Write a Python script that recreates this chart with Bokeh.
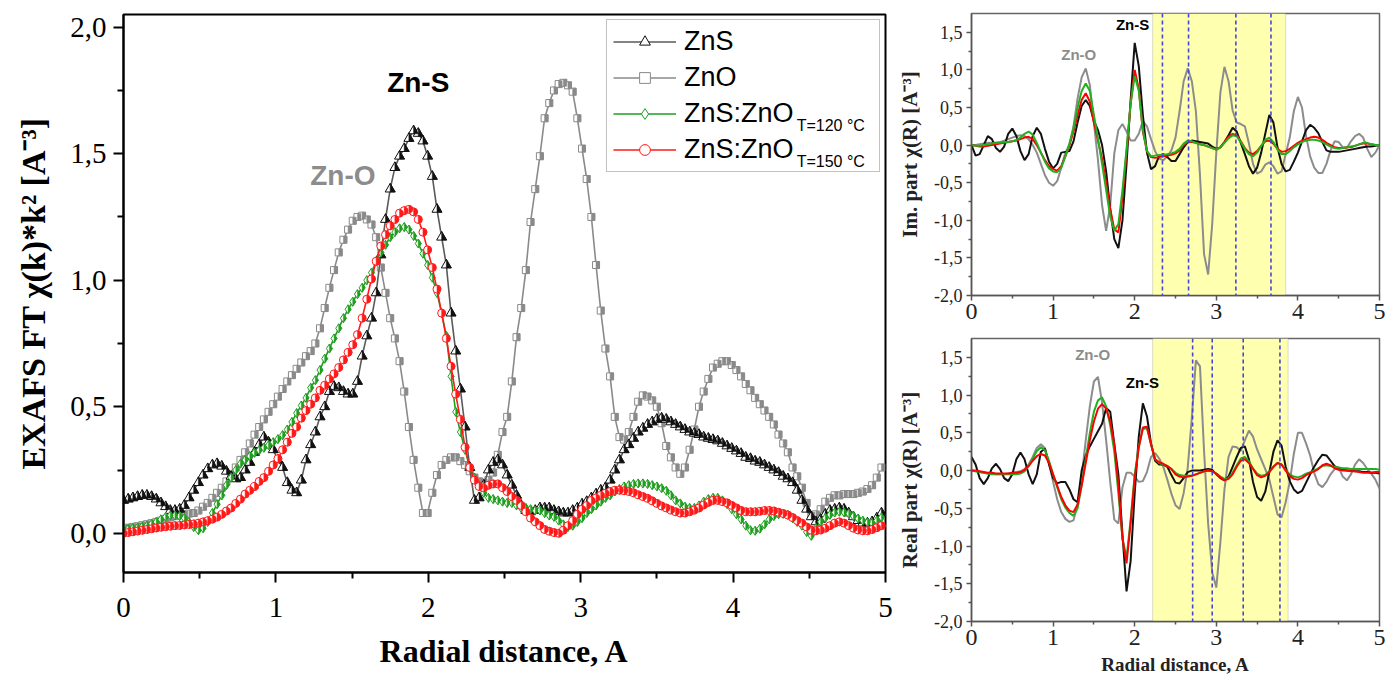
import numpy as np
from bokeh.plotting import figure
from bokeh.layouts import row, column
from bokeh.models import (FixedTicker, CustomJSTickFormatter, Legend, LegendItem,
                          Label, BoxAnnotation, Span)
from bokeh.embed import file_html
from bokeh.resources import INLINE

# ---------------- data: left panel (|FT|, R grid step 0.0307 A) ----------------
R_STEP = 0.0307
r_left = [round(i * R_STEP, 4) for i in range(163)]

zns = [0.13, 0.135, 0.14, 0.145, 0.15, 0.15, 0.145, 0.135, 0.12, 0.105,
       0.09, 0.09, 0.095, 0.11, 0.14, 0.17, 0.20, 0.23, 0.255, 0.27,
       0.275, 0.265, 0.245, 0.225, 0.215, 0.22, 0.25, 0.28, 0.32, 0.35,
       0.38, 0.36, 0.33, 0.29, 0.26, 0.20, 0.17, 0.16, 0.21, 0.29,
       0.35, 0.40, 0.46, 0.50, 0.56, 0.58, 0.575, 0.56, 0.55, 0.55,
       0.60, 0.70, 0.78, 0.85, 0.95, 1.10, 1.24, 1.36, 1.445, 1.49,
       1.52, 1.56, 1.59, 1.58, 1.55, 1.49, 1.41, 1.28, 1.17, 1.06,
       0.87, 0.72, 0.57, 0.42, 0.26, 0.13, 0.14, 0.19, 0.25, 0.28,
       0.29, 0.27, 0.23, 0.19, 0.15, 0.11, 0.09, 0.085, 0.09, 0.10,
       0.10, 0.10, 0.09, 0.085, 0.08, 0.08, 0.09, 0.10, 0.115, 0.125,
       0.14, 0.155, 0.17, 0.18, 0.21, 0.25, 0.29, 0.33, 0.35, 0.375,
       0.40, 0.415, 0.43, 0.44, 0.45, 0.455, 0.45, 0.44, 0.43, 0.42,
       0.41, 0.40, 0.395, 0.39, 0.38, 0.375, 0.37, 0.365, 0.355, 0.345,
       0.335, 0.325, 0.315, 0.30, 0.295, 0.285, 0.28, 0.27, 0.26, 0.25,
       0.24, 0.225, 0.215, 0.20, 0.17, 0.13, 0.095, 0.065, 0.045, 0.055,
       0.075, 0.09, 0.095, 0.10, 0.095, 0.08, 0.065, 0.05, 0.04, 0.04,
       0.045, 0.06, 0.08]

zno = [0.02, 0.022, 0.025, 0.028, 0.032, 0.036, 0.04, 0.045, 0.05, 0.057,
       0.063, 0.068, 0.072, 0.075, 0.078, 0.08, 0.09, 0.105, 0.12, 0.14,
       0.16, 0.18, 0.205, 0.23, 0.26, 0.29, 0.32, 0.355, 0.39, 0.42,
       0.45, 0.48, 0.51, 0.54, 0.57, 0.60, 0.625, 0.65, 0.675, 0.70,
       0.72, 0.75, 0.81, 0.89, 0.97, 1.04, 1.11, 1.16, 1.20, 1.235,
       1.25, 1.255, 1.24, 1.22, 1.17, 1.05, 0.95, 0.85, 0.77, 0.68,
       0.56, 0.42, 0.29, 0.18, 0.08, 0.08, 0.16, 0.23, 0.27, 0.29,
       0.30, 0.30, 0.285, 0.27, 0.245, 0.22, 0.205, 0.20, 0.21, 0.24,
       0.31, 0.40, 0.46, 0.60, 0.775, 0.89, 1.04, 1.23, 1.36, 1.49,
       1.64, 1.70, 1.75, 1.775, 1.78, 1.77, 1.745, 1.64, 1.52, 1.40,
       1.25, 1.06, 0.88, 0.73, 0.62, 0.46, 0.38, 0.37, 0.40, 0.46,
       0.52, 0.545, 0.54, 0.525, 0.50, 0.435, 0.345, 0.30, 0.26, 0.235,
       0.26, 0.33, 0.41, 0.50, 0.56, 0.61, 0.655, 0.67, 0.68, 0.68,
       0.665, 0.645, 0.62, 0.59, 0.565, 0.535, 0.51, 0.485, 0.46, 0.43,
       0.39, 0.355, 0.32, 0.26, 0.225, 0.18, 0.12, 0.07, 0.075, 0.095,
       0.125, 0.14, 0.15, 0.15, 0.155, 0.155, 0.155, 0.16, 0.165, 0.175,
       0.19, 0.22, 0.26]

t120 = [0.015, 0.017, 0.02, 0.022, 0.026, 0.03, 0.037, 0.045, 0.055, 0.065,
        0.07, 0.07, 0.068, 0.06, 0.045, 0.025, 0.012, 0.02, 0.045, 0.08,
        0.115, 0.15, 0.19, 0.22, 0.25, 0.275, 0.29, 0.305, 0.318, 0.328,
        0.338, 0.348, 0.36, 0.372, 0.388, 0.41, 0.44, 0.475, 0.505, 0.535,
        0.575, 0.605, 0.645, 0.69, 0.73, 0.77, 0.81, 0.85, 0.885, 0.915,
        0.945, 0.97, 1.0, 1.03, 1.075, 1.11, 1.14, 1.17, 1.19, 1.205,
        1.21, 1.20, 1.175, 1.145, 1.105, 1.06, 1.01, 0.95, 0.87, 0.78,
        0.62, 0.48, 0.40, 0.33, 0.26, 0.22, 0.19, 0.16, 0.14, 0.135,
        0.13, 0.125, 0.12, 0.12, 0.11, 0.10, 0.10, 0.095, 0.09, 0.09,
        0.08, 0.07, 0.065, 0.05, 0.035, 0.025, 0.03, 0.045, 0.06, 0.08,
        0.095, 0.11, 0.125, 0.14, 0.15, 0.165, 0.175, 0.185, 0.19, 0.195,
        0.197, 0.197, 0.195, 0.19, 0.185, 0.178, 0.168, 0.15, 0.13, 0.118,
        0.105, 0.10, 0.10, 0.11, 0.125, 0.135, 0.14, 0.14, 0.13, 0.115,
        0.095, 0.075, 0.055, 0.03, 0.012, 0.01, 0.018, 0.035, 0.055, 0.068,
        0.075, 0.077, 0.073, 0.06, 0.045, 0.03, 0.005, -0.01, 0.02, 0.045,
        0.06, 0.073, 0.082, 0.085, 0.083, 0.078, 0.068, 0.058, 0.05, 0.043,
        0.04, 0.05, 0.063]

t150 = [0.0, 0.003, 0.006, 0.009, 0.012, 0.015, 0.018, 0.021, 0.024, 0.026,
        0.028, 0.03, 0.031, 0.033, 0.035, 0.037, 0.04, 0.045, 0.05, 0.056,
        0.064, 0.075, 0.088, 0.10, 0.118, 0.135, 0.155, 0.17, 0.185, 0.205,
        0.22, 0.245, 0.27, 0.295, 0.33, 0.36, 0.395, 0.42, 0.455, 0.485,
        0.51, 0.535, 0.565, 0.585, 0.61, 0.63, 0.655, 0.685, 0.715, 0.745,
        0.785, 0.85, 0.925, 1.005, 1.075, 1.135, 1.18, 1.215, 1.24, 1.265,
        1.275, 1.28, 1.27, 1.24, 1.19, 1.12, 1.05, 0.965, 0.87, 0.77,
        0.66, 0.55, 0.45, 0.34, 0.26, 0.21, 0.185, 0.18, 0.19, 0.195,
        0.195, 0.18, 0.165, 0.145, 0.13, 0.11, 0.085, 0.06, 0.045, 0.03,
        0.015, 0.008, 0.003, 0.0, 0.012, 0.03, 0.05, 0.075, 0.095, 0.11,
        0.13, 0.14, 0.15, 0.158, 0.165, 0.17, 0.17, 0.168, 0.165, 0.16,
        0.152, 0.145, 0.138, 0.128, 0.118, 0.108, 0.10, 0.092, 0.085, 0.08,
        0.08, 0.085, 0.092, 0.10, 0.112, 0.122, 0.13, 0.13, 0.125, 0.12,
        0.11, 0.10, 0.09, 0.085, 0.085, 0.085, 0.087, 0.09, 0.09, 0.088,
        0.083, 0.078, 0.072, 0.062, 0.05, 0.04, 0.025, 0.012, 0.01, 0.013,
        0.02, 0.03, 0.04, 0.045, 0.04, 0.03, 0.02, 0.013, 0.01, 0.01,
        0.015, 0.022, 0.03]

# ---------------- data: right panels (step 0.05 A) ----------------
r_right = [round(i * 0.05, 2) for i in range(101)]

im_zns = [0.0, -0.14, -0.12, 0.0, 0.12, 0.08, -0.04, -0.09, -0.02, 0.15,
          0.22, 0.12, -0.08, -0.20, -0.12, 0.12, 0.23, 0.15, -0.05, -0.22,
          -0.31, -0.25, -0.10, -0.09, -0.08, 0.05, 0.30, 0.52, 0.60, 0.52,
          0.32, 0.20, 0.0, -0.35, -0.85, -1.25, -1.37, -1.0, -0.25, 0.60,
          1.36, 1.05, 0.40, -0.10, -0.32, -0.28, -0.14, -0.12, -0.16, -0.21,
          -0.21, -0.12, -0.03, 0.04, 0.06, 0.05, 0.04, 0.03, 0.02, -0.02,
          -0.05, -0.03, 0.04, 0.13, 0.23, 0.18, 0.03, -0.12, -0.28, -0.38,
          -0.30, -0.10, 0.15, 0.40, 0.30, -0.03, -0.25, -0.35, -0.33, -0.22,
          -0.10, 0.05, 0.20, 0.27, 0.23, 0.16, 0.04, -0.07, -0.09, -0.09,
          -0.09, -0.08, -0.07, -0.06, -0.05, -0.04, -0.03, -0.02, -0.02, -0.01,
          0.0]
im_zno = [0.0, 0.0, 0.01, 0.02, 0.03, 0.03, 0.03, 0.04, 0.06, 0.08,
          0.10, 0.12, 0.13, 0.12, 0.08, 0.0, -0.10, -0.25, -0.40, -0.50,
          -0.54, -0.48, -0.30, -0.10, 0.0, 0.25, 0.62, 0.90, 1.02, 0.80,
          0.30, -0.20, -0.80, -1.14, -0.80, -0.11, 0.20, 0.28, 0.18, 0.06,
          0.06, 0.15, 0.32, 0.25, 0.08, -0.08, -0.18, -0.20, -0.15, -0.07,
          0.10, 0.45, 0.85, 1.02, 0.85, 0.45, -0.40, -1.45, -1.72, -1.05,
          -0.10, 0.70, 1.04, 0.85, 0.46, 0.30, 0.28, 0.25, 0.02, -0.25,
          -0.38, -0.35, -0.26, -0.23, -0.28, -0.38, -0.35, -0.12, 0.10, 0.45,
          0.64, 0.50, 0.12, -0.15, -0.30, -0.37, -0.37, -0.25, -0.07, 0.05,
          0.04, -0.03, -0.04, 0.05, 0.12, 0.15, 0.10, -0.05, -0.16, -0.10,
          0.0]
im_t150 = [0.0, -0.01, -0.02, -0.02, -0.01, 0.0, 0.01, 0.02, 0.03, 0.04,
           0.05, 0.06, 0.08, 0.10, 0.11, 0.08, 0.0, -0.10, -0.20, -0.28,
           -0.32, -0.34, -0.28, -0.15, 0.0, 0.18, 0.40, 0.60, 0.69, 0.58,
           0.30, 0.06, -0.18, -0.50, -0.85, -1.12, -1.16, -0.70, -0.10, 0.55,
           1.00, 0.75, 0.18, -0.08, -0.16, -0.17, -0.16, -0.15, -0.14, -0.13,
           -0.11, -0.07, 0.0, 0.04, 0.04, 0.03, 0.01, 0.0, -0.02, -0.04,
           -0.06, -0.03, 0.04, 0.11, 0.15, 0.13, 0.05, -0.04, -0.10, -0.12,
           -0.08, -0.01, 0.05, 0.06, 0.02, -0.05, -0.09, -0.08, -0.05, -0.01,
           0.03, 0.06, 0.08, 0.10, 0.11, 0.10, 0.07, 0.03, 0.0, -0.03,
           -0.04, -0.04, -0.03, -0.03, -0.01, 0.01, 0.02, 0.02, 0.01, 0.0,
           0.0]
im_t120 = [0.0, -0.01, -0.01, 0.0, 0.01, 0.02, 0.03, 0.03, 0.04, 0.04,
           0.05, 0.07, 0.10, 0.15, 0.18, 0.14, 0.03, -0.10, -0.22, -0.31,
           -0.35, -0.36, -0.30, -0.15, 0.02, 0.22, 0.50, 0.72, 0.82, 0.72,
           0.40, 0.08, -0.25, -0.60, -0.95, -1.14, -1.05, -0.60, -0.05, 0.55,
           0.92, 0.72, 0.20, -0.08, -0.15, -0.14, -0.13, -0.13, -0.12, -0.11,
           -0.09, -0.05, 0.02, 0.06, 0.05, 0.03, 0.01, 0.0, -0.02, -0.04,
           -0.06, -0.03, 0.03, 0.09, 0.13, 0.12, 0.04, -0.05, -0.12, -0.15,
           -0.10, -0.01, 0.07, 0.10, 0.04, -0.06, -0.12, -0.12, -0.08, -0.03,
           0.01, 0.04, 0.06, 0.07, 0.07, 0.06, 0.04, 0.01, -0.02, -0.04,
           -0.05, -0.04, -0.03, -0.02, -0.01, 0.01, 0.03, 0.03, 0.01, 0.0,
           0.0]

re_zns = [0.18, 0.08, -0.10, -0.18, -0.10, 0.03, 0.09, 0.02, -0.10, -0.14,
          -0.05, 0.15, 0.24, 0.15, -0.05, -0.18, -0.05, 0.25, 0.29, 0.08,
          -0.10, -0.17, -0.15, -0.15, -0.25, -0.38, -0.42, 0.0, 0.20, 0.32,
          0.42, 0.52, 0.62, 0.83, 0.78, 0.35, -0.05, -0.84, -1.60, -1.20,
          -0.30, 0.45, 0.89, 0.72, 0.36, 0.13, 0.08, 0.08, 0.05, -0.06,
          -0.16, -0.17, -0.10, -0.02, 0.0, 0.0, 0.0, 0.01, 0.02, 0.01,
          -0.05, -0.10, -0.13, -0.08, 0.05, 0.18, 0.30, 0.32, 0.15, -0.15,
          -0.35, -0.40, -0.28, -0.02, 0.25, 0.40, 0.33, 0.05, -0.14, -0.25,
          -0.30, -0.27, -0.16, -0.05, 0.05, 0.14, 0.21, 0.20, 0.13, 0.06,
          0.03, 0.01, 0.0, 0.0, -0.01, -0.01, -0.02, -0.02, -0.03, -0.03,
          -0.04]
re_zno = [0.0, -0.01, -0.02, -0.03, -0.04, -0.04, -0.05, -0.05, -0.05, -0.04,
          -0.03, -0.02, -0.01, 0.02, 0.08, 0.18, 0.30, 0.35, 0.30, 0.10,
          -0.15, -0.38, -0.55, -0.64, -0.68, -0.66, -0.45, -0.08, 0.40, 0.85,
          1.18, 1.24, 0.90, 0.40, -0.15, -0.65, -0.70, -0.22, -0.03, -0.03,
          -0.08, -0.15, -0.14, -0.02, 0.18, 0.23, 0.16, 0.05, -0.12, -0.31,
          -0.46, -0.51, -0.30, 0.04, 0.70, 1.46, 1.38, 0.26, -0.70, -1.35,
          -1.55, -0.95, -0.25, 0.18, 0.32, 0.31, 0.26, 0.40, 0.53, 0.45,
          0.28, 0.15, 0.02, -0.12, -0.35, -0.58, -0.62, -0.42, -0.15, 0.22,
          0.50, 0.50, 0.36, 0.20, -0.03, -0.18, -0.22, -0.15, -0.05, 0.02,
          0.04, -0.08, -0.13, -0.05, 0.08, 0.15, 0.10, 0.02, -0.04, -0.12,
          -0.24]
re_t150 = [0.0, 0.0, -0.01, -0.02, -0.03, -0.03, -0.04, -0.04, -0.04, -0.04,
           -0.03, -0.03, -0.02, 0.01, 0.06, 0.13, 0.19, 0.22, 0.20, 0.10,
           -0.05, -0.20, -0.35, -0.46, -0.53, -0.55, -0.45, -0.20, 0.10, 0.40,
           0.65, 0.82, 0.88, 0.82, 0.65, 0.35, -0.20, -0.90, -1.23, -0.70,
           -0.10, 0.30, 0.57, 0.58, 0.35, 0.15, 0.11, 0.09, 0.06, 0.02,
           -0.05, -0.08, -0.09, -0.08, -0.07, -0.05, -0.03, -0.01, 0.0, -0.01,
           -0.04, -0.09, -0.13, -0.11, -0.05, 0.05, 0.13, 0.15, 0.10, 0.02,
           -0.06, -0.09, -0.07, -0.02, 0.05, 0.10, 0.08, 0.0, -0.07, -0.11,
           -0.12, -0.10, -0.06, -0.03, -0.01, 0.02, 0.07, 0.09, 0.07, 0.03,
           0.01, 0.0, 0.0, -0.01, -0.01, -0.02, -0.03, -0.03, -0.03, -0.02,
           -0.02]
re_t120 = [0.0, -0.01, -0.02, -0.03, -0.04, -0.05, -0.05, -0.05, -0.05, -0.05,
           -0.05, -0.05, -0.04, -0.01, 0.06, 0.16, 0.26, 0.31, 0.27, 0.13,
           -0.05, -0.22, -0.38, -0.49, -0.56, -0.60, -0.50, -0.20, 0.15, 0.50,
           0.78, 0.93, 0.97, 0.85, 0.60, 0.25, -0.30, -0.90, -1.16, -0.65,
           -0.05, 0.32, 0.55, 0.56, 0.35, 0.15, 0.10, 0.08, 0.06, 0.02,
           -0.03, -0.06, -0.07, -0.07, -0.07, -0.05, -0.03, -0.01, 0.0, -0.01,
           -0.04, -0.08, -0.11, -0.10, -0.03, 0.07, 0.16, 0.18, 0.12, 0.03,
           -0.04, -0.07, -0.06, -0.01, 0.05, 0.10, 0.08, 0.01, -0.05, -0.08,
           -0.09, -0.07, -0.04, -0.02, 0.0, 0.03, 0.06, 0.07, 0.06, 0.05,
           0.04, 0.03, 0.03, 0.02, 0.02, 0.02, 0.02, 0.02, 0.02, 0.02,
           0.01]

band_im = [2.22, 3.85]
dash_im = [2.34, 2.66, 3.24, 3.67]
band_re = [2.22, 3.88]
dash_re = [2.71, 2.95, 3.33, 3.78]

legend_labels = ["ZnS", "ZnO", "ZnS:ZnO", "ZnS:ZnO"]
legend_subs = ["T=120 °C", "T=150 °C"]

# ---------------- styling ----------------
SERIF = "Liberation Serif"
SANS = "Liberation Sans"
C_BLACK = "#111111"
C_GREY = "#8a8a8a"
C_GREEN = "#1f9e1f"
C_RED = "#ff1a1a"

comma = CustomJSTickFormatter(code="return tick.toFixed(1).replace('.', ',');")

# ---------------- left panel ----------------
XL = (0, 5)
YL = (-0.155, 2.05)
FW, FH = 762, 558
p1 = figure(width=895, height=677, x_range=XL, y_range=YL,
            output_backend="svg", toolbar_location=None,
            min_border_left=123, min_border_right=10,
            min_border_top=14, min_border_bottom=105)
p1.xgrid.visible = False
p1.ygrid.visible = False
p1.outline_line_color = "black"
p1.outline_line_width = 2

KX = (XL[1] - XL[0]) / FW
KY = (YL[1] - YL[0]) / FH


def half(xs, ys, verts):
    pxs = [[x + vx * KX for vx, vy in verts] for x in xs]
    pys = [[y + vy * KY for vx, vy in verts] for y in ys]
    return pxs, pys


# right-half outlines of the markers, in screen pixels (y up)
TRI = [(0.0, 5.8), (0.0, -2.9), (5.0, -2.9)]
SQ = [(0.0, 3.5), (3.5, 3.5), (3.5, -3.5), (0.0, -3.5)]
DIA = [(0.0, 4.5), (3.0, 0.0), (0.0, -4.5)]
CIR = [(0.0, -4.0), (2.0, -3.46), (3.46, -2.0), (4.0, 0.0), (3.46, 2.0),
       (2.0, 3.46), (0.0, 4.0)]


def draw_series(x, y, color, linecolor, marker, size, verts):
    ln = p1.line(x, y, line_color=linecolor, line_width=1.6)
    sc = p1.scatter(x, y, marker=marker, size=size, fill_color="white",
                    line_color=color, line_width=1)
    xs, ys = half(x, y, verts)
    p1.patches(xs, ys, fill_color=color, fill_alpha=1.0,
               line_color=color, line_width=0.5)
    return [ln, sc]


r_zno = draw_series(r_left, zno, C_GREY, C_GREY, "square", 7, SQ)
r_zns = draw_series(r_left, zns, C_BLACK, "#5a5a5a", "triangle", 10, TRI)
r_120 = draw_series(r_left, t120, C_GREEN, C_GREEN, "diamond", 9, DIA)
r_150 = draw_series(r_left, t150, C_RED, C_RED, "circle", 8, CIR)

legend = Legend(items=[LegendItem(label=legend_labels[0], renderers=r_zns),
                       LegendItem(label=legend_labels[1], renderers=r_zno),
                       LegendItem(label=legend_labels[2], renderers=r_120),
                       LegendItem(label=legend_labels[3], renderers=r_150)],
                location="top_right", margin=5, padding=6, spacing=5,
                glyph_width=63, glyph_height=27, label_height=27,
                label_width=189, label_standoff=8,
                label_text_font=SANS, label_text_font_size="27px",
                label_text_color="black",
                border_line_color="#888888", border_line_width=1.5,
                background_fill_alpha=0.0)
p1.add_layout(legend)

p1.add_layout(Label(x=4.417, y=1.579, text=legend_subs[0], text_font=SANS,
                    text_font_size="16px", text_color="black", level="overlay"))
p1.add_layout(Label(x=4.417, y=1.437, text=legend_subs[1], text_font=SANS,
                    text_font_size="16px", text_color="black", level="overlay"))
p1.add_layout(Label(x=1.73, y=1.72, text="Zn-S", text_font=SANS,
                    text_font_style="bold", text_font_size="28px",
                    text_color="black"))
p1.add_layout(Label(x=1.225, y=1.354, text="Zn-O", text_font=SANS,
                    text_font_style="bold", text_font_size="28px",
                    text_color="#8c8c8c"))

p1.xaxis.ticker = FixedTicker(ticks=[0, 1, 2, 3, 4, 5],
                              minor_ticks=[0.5, 1.5, 2.5, 3.5, 4.5])
p1.yaxis.ticker = FixedTicker(ticks=[0, 0.5, 1.0, 1.5, 2.0],
                              minor_ticks=[0.25, 0.75, 1.25, 1.75])
p1.yaxis.formatter = comma
for ax in (p1.xaxis[0], p1.yaxis[0]):
    ax.axis_line_color = "black"
    ax.axis_line_width = 2
    ax.major_tick_line_color = "black"
    ax.major_tick_line_width = 2
    ax.minor_tick_line_color = "black"
    ax.minor_tick_line_width = 2
    ax.major_tick_in = 0
    ax.major_tick_out = 10
    ax.minor_tick_in = 0
    ax.minor_tick_out = 6
    ax.major_label_text_font = SERIF
    ax.major_label_text_font_size = "29px"
    ax.major_label_text_color = "black"
    ax.axis_label_text_font = SERIF
    ax.axis_label_text_font_style = "bold"
    ax.axis_label_text_color = "black"
p1.xaxis.axis_label = "Radial distance, A"
p1.yaxis.axis_label = "EXAFS FT χ(k)*k² [A⁻³]"
p1.xaxis.axis_label_text_font_size = "32px"
p1.yaxis.axis_label_text_font_size = "34px"
p1.xaxis.major_label_standoff = 15
p1.xaxis.axis_label_standoff = 13
p1.yaxis.major_label_standoff = 7
p1.yaxis.axis_label_standoff = 15


# ---------------- right panels ----------------
def right_fig(height, top, bottom, band, dashes, series, ylabel, xlabel, notes):
    p = figure(width=491, height=height, x_range=(0, 5), y_range=(-2.0, 1.75),
               output_backend="svg", toolbar_location=None,
               min_border_left=71, min_border_right=7,
               min_border_top=top, min_border_bottom=bottom)
    p.xgrid.visible = False
    p.ygrid.visible = False
    p.outline_line_color = "#666666"
    p.outline_line_width = 1.5
    p.add_layout(BoxAnnotation(left=band[0], right=band[1], fill_color="#ffffb0",
                               fill_alpha=1.0, line_color="#8f8f70", line_width=1,
                               level="underlay"))
    for d in dashes:
        p.add_layout(Span(location=d, dimension="height", line_color="#4545d8",
                          line_dash="4 3", line_width=1.6))
    for y, color in series:
        p.line(r_right, y, line_color=color, line_width=2)
    for (x, y, txt, col) in notes:
        p.add_layout(Label(x=x, y=y, text=txt, text_font=SANS,
                           text_font_style="bold", text_font_size="15px",
                           text_color=col))
    p.xaxis.ticker = FixedTicker(ticks=[0, 1, 2, 3, 4, 5],
                                 minor_ticks=[0.5, 1.5, 2.5, 3.5, 4.5])
    p.yaxis.ticker = FixedTicker(ticks=[-2.0, -1.5, -1.0, -0.5, 0.0, 0.5, 1.0, 1.5],
                                 minor_ticks=[-1.75, -1.25, -0.75, -0.25, 0.25,
                                              0.75, 1.25])
    p.yaxis.formatter = comma
    for ax in (p.xaxis[0], p.yaxis[0]):
        ax.axis_line_color = "#555555"
        ax.axis_line_width = 1.5
        ax.major_tick_line_color = "#555555"
        ax.major_tick_line_width = 1.5
        ax.minor_tick_line_color = "#555555"
        ax.minor_tick_line_width = 1.5
        ax.major_tick_in = 0
        ax.major_tick_out = 5
        ax.minor_tick_in = 0
        ax.minor_tick_out = 3
        ax.major_label_text_font = SERIF
        ax.major_label_text_color = "#222222"
        ax.axis_label_text_font = SERIF
        ax.axis_label_text_font_style = "bold"
        ax.axis_label_text_color = "#222222"
    p.yaxis.axis_label_text_font_size = "21px"
    p.xaxis.axis_label_text_font_size = "19px"
    p.yaxis.major_label_text_font_size = "18px"
    p.xaxis.major_label_text_font_size = "24px"
    p.yaxis.major_label_standoff = 4
    p.yaxis.axis_label_standoff = 9
    p.yaxis.axis_label = ylabel
    p.xaxis.major_label_standoff = 3
    p.xaxis.axis_label_standoff = 6
    if xlabel:
        p.xaxis.axis_label = xlabel
    return p


p2 = right_fig(331, 13, 36, band_im, dash_im,
               [(im_zno, "#8c8c8c"), (im_zns, C_BLACK), (im_t150, "#ff0000"),
                (im_t120, "#22b022")],
               "Im. part χ(R) [A⁻³]", None,
               [(1.77, 1.49, "Zn-S", "black"), (1.10, 1.087, "Zn-O", "#8c8c8c")])
p3 = right_fig(346, 7, 56, band_re, dash_re,
               [(re_zno, "#8c8c8c"), (re_zns, C_BLACK), (re_t120, "#22b022"),
                (re_t150, "#ff0000")],
               "Real part χ(R) [A⁻³]", "Radial distance, A",
               [(1.27, 1.43, "Zn-O", "#8c8c8c"), (1.89, 1.06, "Zn-S", "black")])

layout = row(p1, column(p2, p3))
open("out.html", "w").write(file_html(layout, INLINE))
